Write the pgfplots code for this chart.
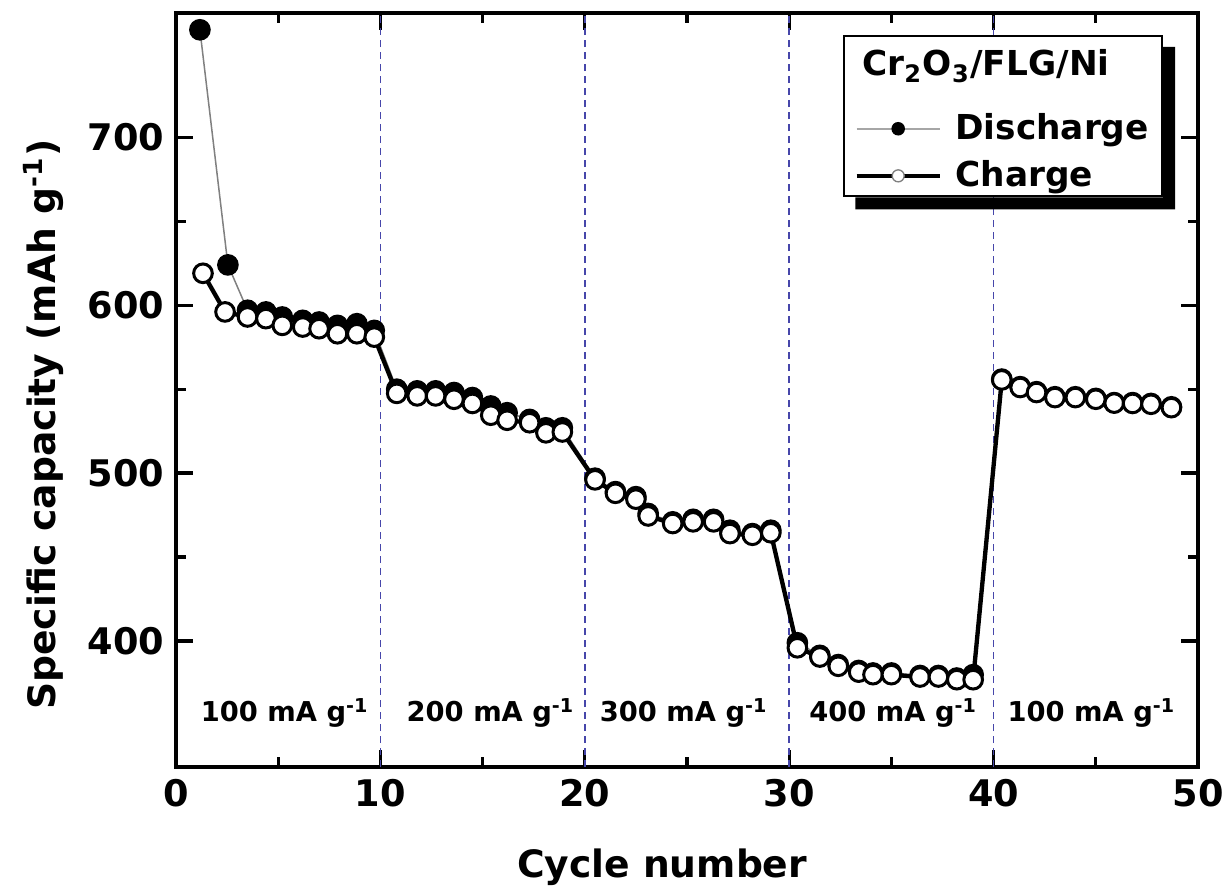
\documentclass[border=0pt]{standalone}
\usepackage{fontspec}
\setmainfont{DejaVu Sans}
\usepackage{pgfplots}
\pgfplotsset{compat=1.18}
\definecolor{dashblue}{RGB}{70,70,170}
\begin{document}
\begin{tikzpicture}
\begin{axis}[
  width=306.6pt, height=226.2pt, scale only axis,
  xmin=0, xmax=50, ymin=325, ymax=774,
  xtick={0,10,20,30,40,50}, minor x tick num=1,
  ytick={400,500,600,700}, minor y tick num=1,
  tick align=inside,
  major tick length=5pt, minor tick length=3pt,
  axis line style={line width=1.2pt},
  every tick/.style={black, line width=1pt},
  tick label style={font=\fontsize{11}{13}\selectfont\bfseries, /pgf/number format/assume math mode=true},
  label style={font=\fontsize{11.3}{14}\selectfont\bfseries},
  xlabel={Cycle number},
  ylabel={Specific capacity (mAh g\textsuperscript{-1})},
  xlabel style={at={(axis description cs:0.4756,-0.146)}, anchor=base},
  ylabel style={at={(axis description cs:-0.118,0.454)}, anchor=base},
  legend style={name=leg, at={(axis description cs:0.653,0.971)}, anchor=north west,
    draw=black, line width=0.6pt, fill=white,
    font=\fontsize{10.3}{12}\selectfont\bfseries, row sep=2.8pt, column sep=3pt,
    inner xsep=3pt, inner ysep=0.5pt, nodes={inner sep=1pt}},
  legend cell align=left,
  legend image code/.code={\draw[mark repeat=2,mark phase=2,#1] plot coordinates {(0pt,0pt) (12.5pt,0pt) (25pt,0pt)};},
]
% rate boundaries
\addplot[forget plot, dashblue, line width=0.5pt, dash pattern=on 2pt off 1.6pt] coordinates {(10,325) (10,774)};
\addplot[forget plot, dashblue, line width=0.5pt, dash pattern=on 2pt off 1.6pt] coordinates {(20,325) (20,774)};
\addplot[forget plot, dashblue, line width=0.5pt, dash pattern=on 2pt off 1.6pt] coordinates {(30,325) (30,774)};
\addplot[forget plot, dashblue, line width=0.5pt, dash pattern=on 2pt off 1.6pt] coordinates {(40,325) (40,774)};
% Discharge
\addplot[forget plot, color=gray, line width=0.45pt, mark=*, mark size=3pt, mark options={fill=black, draw=black, line width=0.5pt, solid}] coordinates {
(1.17,764) (2.54,624) (3.5,597) (4.4,596) (5.2,593) (6.2,591) (7.0,590) (7.9,588) (8.85,589) (9.7,585)
(10.8,550) (11.8,549) (12.7,549) (13.6,548) (14.5,545) (15.4,540) (16.2,536) (17.3,532) (18.1,527) (18.9,527)
(20.5,497) (21.5,489) (22.5,486) (23.1,476) (24.3,471) (25.3,472.5) (26.3,472.5) (27.1,466) (28.2,464) (29.1,466)
(30.4,399) (31.5,391.5) (32.4,386) (33.4,382.5) (34.1,381) (35.0,381) (36.4,379.5) (37.3,379.5) (38.2,378) (39.0,380)
(40.4,556) (41.3,551.5) (42.1,548.5) (43.0,545.5) (44.0,545.5) (45.0,544.5) (45.9,542) (46.8,542) (47.7,541.5) (48.7,539.5)
};
% Charge
\addplot[forget plot, color=black, line width=1.3pt, mark=*, mark size=2.8pt, mark options={fill=white, draw=black, line width=0.9pt, solid}] coordinates {
(1.32,619) (2.4,596) (3.5,593) (4.4,592) (5.2,588) (6.2,587) (7.0,586) (7.9,583) (8.85,583) (9.7,581)
(10.8,547.5) (11.8,546) (12.7,546) (13.6,544) (14.5,541.5) (15.4,534.5) (16.2,531.5) (17.3,530) (18.1,524) (18.9,524.5)
(20.5,496) (21.5,488) (22.5,484.5) (23.1,474.5) (24.3,470) (25.3,471) (26.3,471) (27.1,464) (28.2,463) (29.1,464.5)
(30.4,396) (31.5,390.5) (32.4,385) (33.4,381.5) (34.1,380) (35.0,380) (36.4,378.6) (37.3,378.6) (38.2,377) (39.0,377)
(40.4,555.5) (41.3,551) (42.1,548) (43.0,545) (44.0,545) (45.0,544) (45.9,541.7) (46.8,541.5) (47.7,541) (48.7,539)
};
% legend
\addlegendimage{empty legend}
\addlegendentry[text height=10.5pt, text depth=6.4pt]{\hspace{-27.9pt}Cr\textsubscript{2}O\textsubscript{3}/FLG/Ni}
\addlegendimage{color=gray!70, line width=0.45pt, mark=*, mark size=1.8pt, mark options={fill=black, draw=black, solid}}
\addlegendentry{Discharge}
\addlegendimage{color=black, line width=1.3pt, mark=*, mark size=1.8pt, mark options={fill=white, draw=gray, line width=0.4pt, solid}}
\addlegendentry{Charge}
% rate labels
\node[font=\fontsize{8.2}{10}\selectfont\bfseries, anchor=base] at (axis cs:5.33,352) {100 mA g\textsuperscript{-1}};
\node[font=\fontsize{8.2}{10}\selectfont\bfseries, anchor=base] at (axis cs:15.4,352) {200 mA g\textsuperscript{-1}};
\node[font=\fontsize{8.2}{10}\selectfont\bfseries, anchor=base] at (axis cs:24.85,352) {300 mA g\textsuperscript{-1}};
\node[font=\fontsize{8.2}{10}\selectfont\bfseries, anchor=base] at (axis cs:35.1,352) {400 mA g\textsuperscript{-1}};
\node[font=\fontsize{8.2}{10}\selectfont\bfseries, anchor=base] at (axis cs:44.8,352) {100 mA g\textsuperscript{-1}};
\end{axis}
% legend drop shadow (visible L-shaped part)
\fill[black] ([xshift=3.6pt,yshift=-3.6pt]leg.south west) -| ([xshift=3.6pt,yshift=-3.6pt]leg.north east)
  -- ([yshift=-3.6pt]leg.north east) |- ([xshift=3.6pt]leg.south west) -- cycle;
\pgfresetboundingbox
\path[use as bounding box] (-52.8pt,-35.7pt) rectangle (315.6pt,230.1pt);
\end{tikzpicture}
\end{document}
